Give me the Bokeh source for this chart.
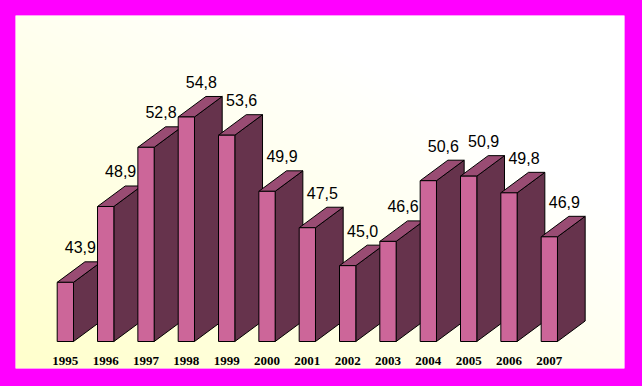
import numpy as np
from bokeh.plotting import figure
from bokeh.models import Range1d, ColumnDataSource
from bokeh.core.properties import value
from bokeh.embed import file_html
from bokeh.resources import INLINE

# ---- data ----
years = ["1995", "1996", "1997", "1998", "1999", "2000", "2001",
         "2002", "2003", "2004", "2005", "2006", "2007"]
values = [43.9, 48.9, 52.8, 54.8, 53.6, 49.9, 47.5, 45.0, 46.6, 50.6, 50.9, 49.8, 46.9]
value_labels = [f"{v:.1f}".replace(".", ",") for v in values]
base_value = 40.0

# ---- geometry / style ----
PX_X = 40.33          # pixels per category step
PX_Y = 15.17          # pixels per value unit
HW = 8.15 / PX_X      # half front width
DX = 27.7 / PX_X      # depth offset x
DY = 20.5 / PX_Y      # depth offset y

FRONT = "#CC6699"
SIDE = "#66334C"
TOP = "#994C73"

x0 = (15 - 64.85) / PX_X
x1 = (624 - 64.85) / PX_X
y0 = base_value - (368 - 341) / PX_Y
y1 = base_value + (341 - 15) / PX_Y

p = figure(width=626, height=370,
           x_range=Range1d(x0, x1), y_range=Range1d(y0, y1),
           x_axis_type=None, y_axis_type=None,
           output_backend="svg", toolbar_location=None,
           min_border_left=15, min_border_top=15,
           min_border_right=2, min_border_bottom=2,
           border_fill_color="#FF00FF", background_fill_color="#FFFFFF",
           outline_line_color=None)

# background gradient: pale yellow bottom-left -> white top-right
H, W = 353, 609
yy, xx = np.mgrid[0:H, 0:W]
t = np.clip(((xx / (W - 1)) + (yy / (H - 1))) / 2 * 1.4, 0, 1)
img = np.empty((H, W), dtype=np.uint32)
view = img.view(dtype=np.uint8).reshape((H, W, 4))
view[:, :, 0] = 255
view[:, :, 1] = 255
view[:, :, 2] = (204 + 51 * t).astype(np.uint8)
view[:, :, 3] = 255
p.image_rgba(image=[img], x=x0, y=y0, dw=x1 - x0, dh=y1 - y0)

idx = list(range(len(values)))

side_xs, side_ys, top_xs, top_ys = [], [], [], []
for i, v in zip(idx, values):
    r = i + HW
    l = i - HW
    side_xs.append([r, r + DX, r + DX, r])
    side_ys.append([base_value, base_value + DY, v + DY, v])
    top_xs.append([l, r, r + DX, l + DX])
    top_ys.append([v, v, v + DY, v + DY])

p.patches(side_xs, side_ys, fill_color=SIDE, line_color="black", line_width=1)
p.patches(top_xs, top_ys, fill_color=TOP, line_color="black", line_width=1)
p.quad(left=[i - HW for i in idx], right=[i + HW for i in idx],
       bottom=[base_value] * len(idx), top=values,
       fill_color=FRONT, line_color="black", line_width=1)

# value labels
lab_src = ColumnDataSource(dict(x=[i + 15 / PX_X for i in idx],
                                y=[v + 35 / PX_Y for v in values],
                                text=value_labels))
p.text(x="x", y="y", text="text", source=lab_src,
       text_font=value("Liberation Sans"), text_font_size="16px",
       text_align="center", text_baseline="alphabetic", text_color="black")

# year labels
yr_src = ColumnDataSource(dict(x=idx, y=[base_value - 19 / PX_Y] * len(idx), text=years))
p.text(x="x", y="y", text="text", source=yr_src,
       text_font=value("Liberation Serif"), text_font_style="bold",
       text_font_size="13px", text_align="center", text_baseline="alphabetic",
       text_color="black")

html = file_html(p, INLINE)
html = html.replace("</head>",
                    "<style>html, body { background: #FF00FF; margin: 0; padding: 0; }</style></head>", 1)
open("out.html", "w").write(html)
